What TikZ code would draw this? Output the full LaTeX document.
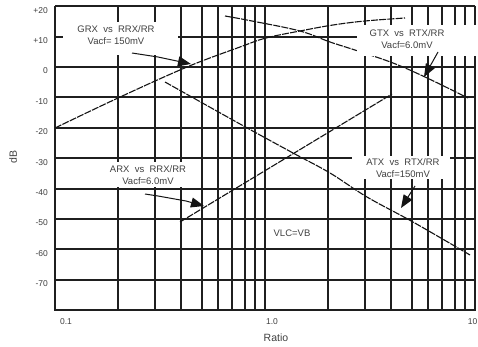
\documentclass[tikz,border=0pt]{standalone}
\usepackage{fontspec}
\setmainfont{Liberation Sans}
\usetikzlibrary{arrows.meta}
\begin{document}
\begin{tikzpicture}[x=1pt,y=-1pt,
  gridline/.style={line width=1.8pt, draw=black!88},
  curve/.style={line width=1.1pt, draw=black!92, dash pattern=on 7pt off 1.2pt},
  lbl/.style={font=\fontsize{9.5}{12}\selectfont, align=center, inner sep=0pt, text=black!75},
  tick/.style={font=\fontsize{8.5}{10}\selectfont, inner sep=0pt, text=black!75},
  axlbl/.style={font=\fontsize{10.5}{12}\selectfont, inner sep=0pt, text=black!75},
  blank/.style={fill=white},
  leader/.style={line width=1pt, draw=black!92, -{Triangle[length=13pt,width=10pt]}}]
\useasboundingbox (0,0) rectangle (478,347);
\fill[white] (0,0) rectangle (478,347);
% grid
\foreach \k in {1,...,9} {
  \draw[gridline] ({round(55+210*ln(\k)/ln(10))},6) -- ({round(55+210*ln(\k)/ln(10))},311);
  \draw[gridline] ({round(265+210*ln(\k)/ln(10))},6) -- ({round(265+210*ln(\k)/ln(10))},311);
}
\draw[gridline] (475,6) -- (475,311);
\foreach \d in {20,10,...,-80} \draw[gridline] (55,{round(67-3.04*\d)}) -- (475,{round(67-3.04*\d)});
% curves
\draw[curve] plot[smooth, tension=0.6] coordinates {(55,128) (118,98) (187,67) (240,47) (266,38) (300,31) (333,25) (365,21) (405,18)};
\draw[curve] plot[smooth, tension=0.6] coordinates {(225,16) (252,21) (300,31) (330,42) (358,51) (393,63) (425,77) (468,98)};
\draw[curve] plot[smooth, tension=0.6] coordinates {(165,82) (240,124) (293,153) (330,173) (367,197) (413,222) (470,255)};
\draw[curve] (180,222) -- (392,94);
% label backgrounds
\fill[blank] (63,22) rectangle (178,55);
\fill[blank] (357,25) rectangle (477,56);
\fill[blank] (100,162) rectangle (195,187);
\fill[blank] (352,156) rectangle (450,179);
% labels
\node[lbl] (grx) at (116,35.5) {GRX\ \ vs\ \ RRX/RR\\Vacf=\ 150mV};
\node[lbl] (gtx) at (407,39) {GTX\ \ vs\ \ RTX/RR\\Vacf=6.0mV};
\node[lbl] (arx) at (148,175.5) {ARX\ \ vs\ \ RRX/RR\\Vacf=6.0mV};
\node[lbl] (atx) at (403,168) {ATX\ \ vs\ \ RTX/RR\\Vacf=150mV};
\node[lbl] (vlc) at (292,233) {VLC=VB};
% leaders
\coordinate (grxS) at (132,53); \coordinate (grxT) at (191,64);
\coordinate (gtxS) at (438,52); \coordinate (gtxT) at (424,77);
\coordinate (arxS) at (145,194); \coordinate (arxT) at (204,206);
\coordinate (atxS) at (415,186); \coordinate (atxT) at (401,208);
\draw[leader] (grxS) -- (158,57) -- (grxT);
\draw[leader] (gtxS) -- (gtxT);
\draw[leader] (arxS) -- (158,196) -- (186,201) -- (arxT);
\draw[leader] (atxS) -- (atxT);
% y ticks
\foreach \d/\t [count=\i] in {20/+20,10/+10,0/0,-10/-10,-20/-20,-30/-30,-40/-40,-50/-50,-60/-60,-70/-70}
  \node[tick, anchor=east] (yt\i) at (48,{71-3.04*\d}) {\t};
% x ticks
\node[tick] (xt1) at (66,322) {0.1};
\node[tick] (xt2) at (272,322) {1.0};
\node[tick, anchor=east] (xt3) at (477.5,322) {10};
\node[axlbl] (xlab) at (276,338) {Ratio};
\node[axlbl, rotate=90] (ylab) at (13,157) {dB};
\end{tikzpicture}
\end{document}
